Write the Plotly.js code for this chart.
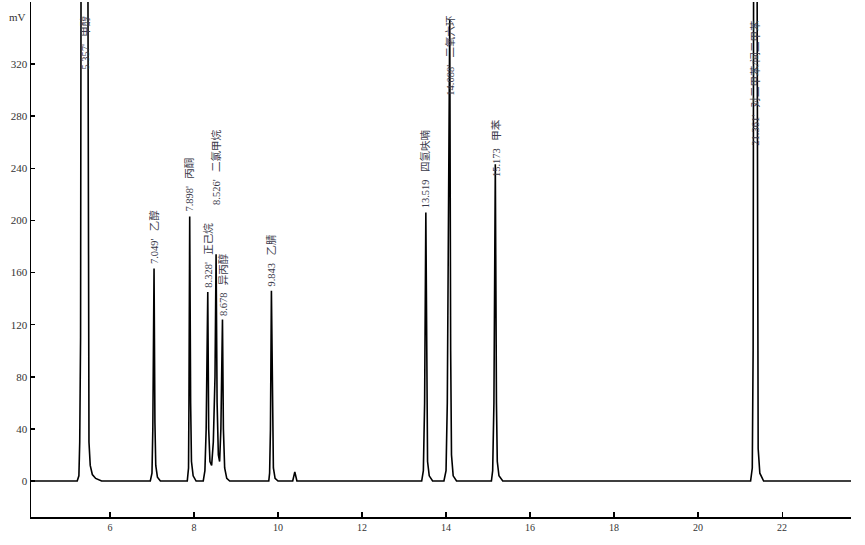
<!DOCTYPE html>
<html>
<head>
<meta charset="utf-8">
<script src="https://cdn.plot.ly/plotly-3.0.1.min.js"></script>
<style>html,body{margin:0;padding:0;background:#fff;}#chart{width:865px;height:545px;}</style>
</head>
<body>
<div id="chart"></div>
<script>
// ---- data ----
const time = [4.12, 5.22, 5.26, 5.28, 5.30, 5.32, 5.46, 5.48, 5.50, 5.53, 5.58, 5.66, 5.80,
  6.96, 7.00, 7.02, 7.049, 7.07, 7.09, 7.13, 7.20,
  7.84, 7.87, 7.88, 7.898, 7.92, 7.94, 7.98, 8.05,
  8.22, 8.26, 8.29, 8.328, 8.35, 8.38, 8.42, 8.46, 8.50, 8.526, 8.55, 8.58, 8.61, 8.64, 8.678, 8.70, 8.73, 8.78, 8.85,
  9.78, 9.80, 9.82, 9.843, 9.87, 9.89, 9.93, 10.00,
  10.35, 10.40, 10.45,
  13.42, 13.46, 13.49, 13.519, 13.54, 13.56, 13.60, 13.68,
  13.95, 14.00, 14.03, 14.088, 14.11, 14.13, 14.17, 14.25,
  15.08, 15.11, 15.14, 15.173, 15.20, 15.22, 15.26, 15.35,
  21.25, 21.29, 21.31, 21.33, 21.39, 21.41, 21.43, 21.47, 21.56,
  23.64];
const signal = [0, 0, 4, 30, 110, 600, 600, 110, 30, 12, 5, 2, 0,
  0, 6, 40, 163, 45, 12, 3, 0,
  0, 10, 60, 203, 60, 15, 4, 0,
  0, 8, 40, 145, 40, 15, 12, 30, 80, 174, 60, 20, 15, 40, 124, 40, 10, 2, 0,
  0, 6, 40, 146, 40, 10, 2, 0,
  0, 7, 0,
  0, 8, 60, 206, 60, 15, 4, 0,
  0, 8, 60, 354, 100, 20, 4, 0,
  0, 8, 60, 243, 60, 15, 4, 0,
  0, 10, 100, 600, 600, 100, 25, 6, 0,
  0];
const peakTimes  = [5.40, 7.049, 7.898, 8.328, 8.526, 8.678, 9.843, 13.519, 14.088, 15.173, 21.36];
const peakNumbers = ["5.357'", "7.049'", "7.898'", "8.328'", "8.526'", "8.678", "9.843", "13.519", "14.088'", "15.173", "21.361'"];
const peakNames = ["甲醇", "乙醇", "丙酮", "正己烷", "二氯甲烷", "异丙醇", "乙腈", "四氢呋喃", "二氧六环", "甲苯", "对二甲苯/间二甲苯"];
const yTicks = [0, 40, 80, 120, 160, 200, 240, 280, 320];
const xTicks = [6, 8, 10, 12, 14, 16, 18, 20, 22];
const yUnit = "mV";

// ---- styling / placement ----
const labelBase = [314, 165, 205, 147, 210, 125, 148, 208, 294, 232, 256];
const serif = "Liberation Serif, 'Noto Sans CJK SC', serif";

const annotations = peakTimes.map((t, i) => ({
  x: t, y: labelBase[i], xref: 'x', yref: 'y',
  text: peakNumbers[i] + '\u2002\u2009' + peakNames[i],
  textangle: -90, showarrow: false,
  xanchor: 'center', yanchor: 'bottom',
  font: {family: serif, size: 10.5, color: '#3a3a4a'}
}));
annotations.push({
  x: 0, y: 356, xref: 'paper', yref: 'y', text: yUnit, showarrow: false,
  xanchor: 'right', yanchor: 'middle', xshift: -3,
  font: {family: serif, size: 11, color: '#333'}
});

const trace = {
  x: time, y: signal, type: 'scatter', mode: 'lines',
  line: {color: '#000', width: 1.6}, hoverinfo: 'none'
};

const layout = {
  width: 865, height: 545,
  margin: {l: 31, r: 14, t: 2, b: 28},
  paper_bgcolor: '#fff', plot_bgcolor: '#fff',
  showlegend: false,
  xaxis: {
    range: [4.12, 23.64], tickvals: xTicks, ticktext: xTicks.map(String),
    ticks: 'inside', ticklen: 5, tickwidth: 1.2, tickcolor: '#000',
    showline: true, linecolor: '#000', linewidth: 1.5,
    showgrid: false, zeroline: false, automargin: false,
    tickfont: {family: serif, size: 10, color: '#333'}
  },
  yaxis: {
    range: [-27.6, 367.6], tickvals: yTicks, ticktext: yTicks.map(String),
    ticks: 'inside', ticklen: 4, tickwidth: 1.5, tickcolor: '#000',
    showline: true, linecolor: '#000', linewidth: 1.5,
    showgrid: false, zeroline: false, automargin: false,
    tickfont: {family: serif, size: 11, color: '#333'}
  },
  annotations: annotations
};

Plotly.newPlot('chart', [trace], layout, {staticPlot: true, displayModeBar: false});
</script>
</body>
</html>
